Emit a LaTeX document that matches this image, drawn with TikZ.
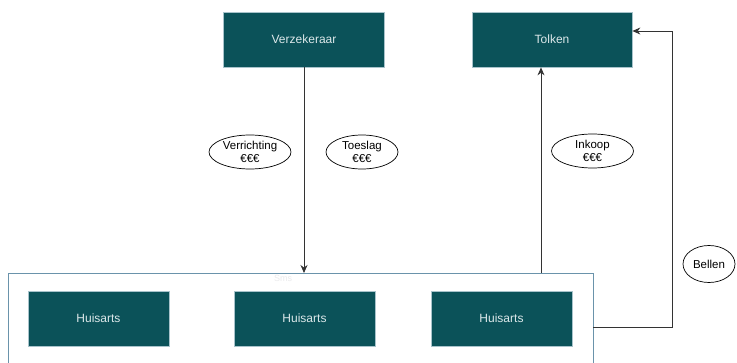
\documentclass[tikz,border=0pt]{standalone}
\usepackage{fontspec}
\setmainfont{Liberation Sans}
\usetikzlibrary{arrows.meta,shapes.geometric}
\definecolor{boxfill}{HTML}{0B5259}
\definecolor{boxline}{HTML}{A8C3CB}
\definecolor{boxtext}{HTML}{DCE8EA}
\definecolor{contline}{HTML}{6A93AB}
\definecolor{conn}{HTML}{333333}
\tikzset{
  x=1pt,y=-1pt,
  tealbox/.style={draw=boxline, line width=0.8pt, fill=boxfill, text=boxtext, minimum width=141pt, minimum height=55pt, inner sep=0pt, font=\fontsize{12}{14}\selectfont},
  topbox/.style={tealbox, minimum width=161pt},
  lab/.style={draw=black, line width=0.7pt, ellipse, minimum width=82pt, minimum height=34pt, inner sep=0pt, align=center, font=\fontsize{11.5}{12.5}\selectfont},
  conn/.style={draw=conn, line width=0.8pt, -{Stealth[length=8pt,width=7pt]}},
}
\begin{document}
\begin{tikzpicture}
\useasboundingbox (0,0) rectangle (737,362);
\fill[white] (0,0) rectangle (737,362);
% container
\draw[contline, line width=0.9pt] (8,362.5) -- (8,273) -- (593,273) -- (593,362.5);
\coordinate (ctop1) at (304,273);
\coordinate (ctop2) at (541,273);
\coordinate (cright) at (593,327);
\node[text=blue!5!gray!15, font=\fontsize{9}{10}\selectfont] (sms) at (283,278) {Sms};
% boxes
\node[topbox] (verz) at (304,39.5) {Verzekeraar};
\node[topbox, minimum width=160pt] (tolk) at (552,39.5) {Tolken};
\node[tealbox] (h1) at (98.5,318.5) {Huisarts};
\node[tealbox] (h2) at (304.5,318.5) {Huisarts};
\node[tealbox] (h3) at (501.5,318.5) {Huisarts};
% connectors
\draw[conn] (verz.south) -- (ctop1);
\draw[conn] (ctop2) -- (ctop2 |- tolk.south);
\draw[conn] (cright) -- (672,327) -- (672,31) -- (tolk.east |- 0,31);
% labels
\node[lab] (verr) at (250,152) {Verrichting\\€€€};
\node[lab, minimum width=72pt] (toes) at (362,152) {Toeslag\\€€€};
\node[lab] (ink) at (592.5,151) {Inkoop\\€€€};
\node[lab, minimum width=52pt, minimum height=37pt] (bel) at (709,264) {Bellen};
\end{tikzpicture}
\end{document}
